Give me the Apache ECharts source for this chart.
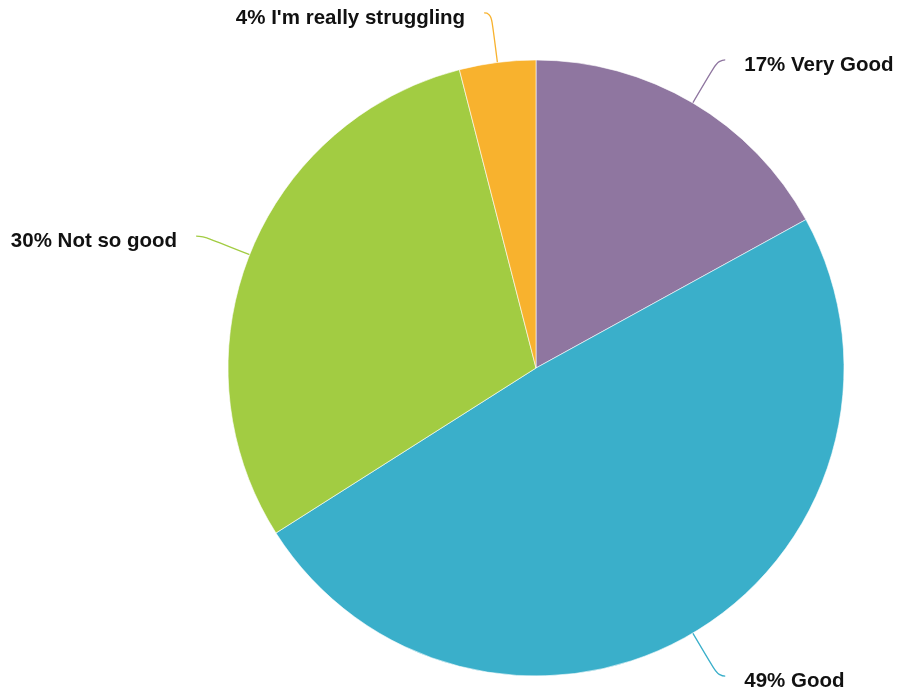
<!DOCTYPE html>
<html><head><meta charset="utf-8">
<script src="https://cdn.jsdelivr.net/npm/echarts@6/dist/echarts.min.js"></script>
<style>html,body{margin:0;padding:0;background:#fff}#c{width:900px;height:693px}</style>
</head><body><div id="c"></div>
<script>
const categories = ["Very Good", "Good", "Not so good", "I'm really struggling"];
const values = [17, 49, 30, 4];
const colors = ["#8f76a0", "#3aafca", "#a2cc42", "#f8b22e"];

const chart = echarts.init(document.getElementById('c'));
chart.setOption({
  animation: false,
  series: [{
    type: 'pie',
    center: [536, 368],
    radius: 308,
    startAngle: 90,
    clockwise: true,
    avoidLabelOverlap: false,
    data: categories.map((c, i) => ({ name: c, value: values[i], itemStyle: { color: colors[i] } })),
    itemStyle: { borderColor: '#fff', borderWidth: 0.6 },
    label: {
      formatter: p => '{t|' + p.value + '% ' + p.name + '}',
      rich: {
        t: {
          color: '#111',
          fontFamily: "'Liberation Sans', Arial, sans-serif",
          fontWeight: 'bold',
          fontSize: 20.5,
          padding: [11, 0, 0, 0]
        }
      },
      distanceToLabelLine: 19
    },
    labelLine: { show: true, smooth: 0.6, length: 50, length2: 7, lineStyle: { width: 1.3 } }
  }]
});
</script></body></html>
